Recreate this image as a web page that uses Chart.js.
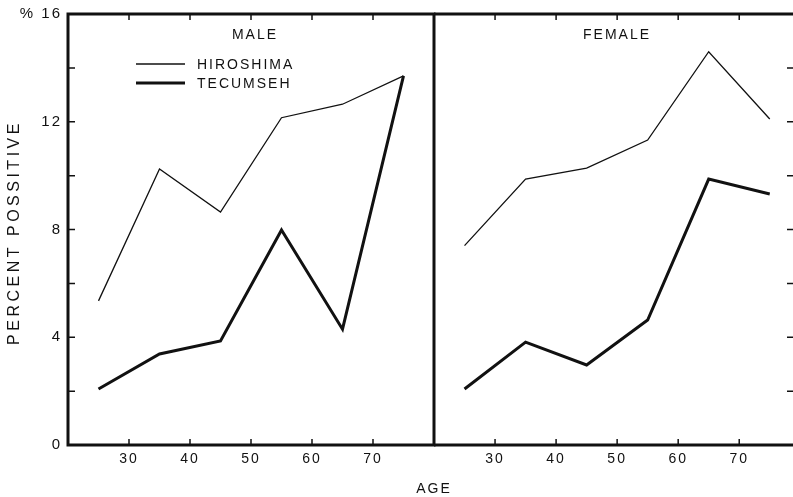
<!DOCTYPE html>
<html>
<head>
<meta charset="utf-8">
<script src="https://cdn.jsdelivr.net/npm/chart.js@4.4.0/dist/chart.umd.min.js"></script>
<style>
  body { margin: 0; background: #fff; overflow: hidden; width: 793px; height: 497px; position: relative; }
  canvas { position: absolute; top: 0; }
  #male { left: 0; }
  #female { left: 432px; }
  #ageLabel { position: absolute; left: 384px; width: 100px; top: 480px; text-align: center;
    font: 14px "Liberation Sans", Arial, sans-serif; letter-spacing: 2px; color: #111; }
</style>
</head>
<body>
<canvas id="male" width="436" height="497"></canvas>
<canvas id="female" width="365" height="497"></canvas>
<div id="ageLabel">AGE</div>
<script>
document.addEventListener('DOMContentLoaded', function () {

    // data
    let ages = [25, 35, 45, 55, 65, 75];
    let maleHiroshima = [5.35, 10.25, 8.65, 12.15, 12.65, 13.7];
    let maleTecumseh = [2.08, 3.38, 3.86, 7.98, 4.3, 13.7];
    let femaleHiroshima = [7.4, 9.87, 10.28, 11.32, 14.6, 12.1];
    let femaleTecumseh = [2.08, 3.82, 2.97, 4.64, 9.87, 9.32];

    let seriesNames = ['HIROSHIMA', 'TECUMSEH'];
    let xTickValues = [30, 40, 50, 60, 70];
    let yTickValues = [2, 4, 6, 8, 10, 12, 14];
    let yTitle = 'PERCENT POSSITIVE';

    let fontFamily = '"Liberation Sans", Arial, sans-serif';
    let ink = '#111';

    function points(values) {
        return values.map((v, i) => ({ x: ages[i], y: v }));
    }

    // box, inward ticks, panel title, y title and legend
    var framePlugin = {
        id: 'frame',
        beforeDraw: function (chart) {
            chart.ctx.letterSpacing = '2px';
        },
        afterDraw: function (chart, args, opts) {
            var ctx = chart.ctx;
            var a = chart.chartArea;
            var xs = chart.scales.x;
            var ys = chart.scales.y;
            ctx.save();
            ctx.strokeStyle = ink;
            ctx.fillStyle = ink;

            // frame
            ctx.lineWidth = 3;
            ctx.beginPath();
            ctx.moveTo(a.left, a.top);
            ctx.lineTo(a.right, a.top);
            ctx.moveTo(a.left, a.bottom);
            ctx.lineTo(a.right, a.bottom);
            if (opts.leftLine) { ctx.moveTo(a.left, a.top - 1.5); ctx.lineTo(a.left, a.bottom + 1.5); }
            if (opts.rightLine) { ctx.moveTo(a.right, a.top - 1.5); ctx.lineTo(a.right, a.bottom + 1.5); }
            ctx.stroke();

            // ticks pointing inward
            ctx.lineWidth = 1.5;
            ctx.beginPath();
            xTickValues.forEach(function (v) {
                var px = xs.getPixelForValue(v);
                ctx.moveTo(px, a.bottom);
                ctx.lineTo(px, a.bottom - 6);
                ctx.moveTo(px, a.top);
                ctx.lineTo(px, a.top + 6);
            });
            yTickValues.forEach(function (v) {
                var py = ys.getPixelForValue(v);
                if (opts.leftTicks) { ctx.moveTo(a.left, py); ctx.lineTo(a.left + 7, py); }
                if (opts.rightTicks) { ctx.moveTo(a.right, py); ctx.lineTo(a.right - 9, py); }
            });
            ctx.stroke();

            // panel title
            ctx.font = '14px ' + fontFamily;
            ctx.textBaseline = 'middle';
            ctx.textAlign = 'center';
            ctx.fillText(opts.title, (a.left + a.right) / 2 + opts.titleShift, a.top + 21);

            // y title, rotated
            if (opts.yTitle) {
                ctx.save();
                ctx.letterSpacing = '3.5px';
                ctx.font = '16px ' + fontFamily;
                ctx.translate(15, (a.top + a.bottom) / 2 + 3);
                ctx.rotate(-Math.PI / 2);
                ctx.fillText(opts.yTitle, 0, 0);
                ctx.restore();
            }

            // legend
            if (opts.legend) {
                ctx.textAlign = 'left';
                chart.data.datasets.forEach(function (ds, i) {
                    var y = a.top + 50 + i * 19;
                    ctx.lineWidth = ds.borderWidth;
                    ctx.beginPath();
                    ctx.moveTo(a.left + 68, y);
                    ctx.lineTo(a.left + 117, y);
                    ctx.stroke();
                    ctx.fillText(ds.label, a.left + 129, y + 1);
                });
            }
            ctx.restore();
        }
    };

    function makeChart(id, hiro, tecu, isLeft) {
        var ctx = document.getElementById(id).getContext('2d');
        return new Chart(ctx, {
            type: 'line',
            data: {
                datasets: [{
                    label: seriesNames[0],
                    data: points(hiro),
                    borderColor: ink,
                    borderWidth: 1.3,
                    pointRadius: 0,
                    tension: 0,
                    fill: false
                }, {
                    label: seriesNames[1],
                    data: points(tecu),
                    borderColor: ink,
                    borderWidth: 3,
                    pointRadius: 0,
                    tension: 0,
                    fill: false
                }]
            },
            options: {
                responsive: false,
                animation: false,
                layout: {
                    padding: isLeft ? { top: 14, right: 2, left: 0, bottom: 0 } : { top: 14, right: 1, left: 2, bottom: 0 }
                },
                plugins: {
                    legend: { display: false },
                    tooltip: { enabled: false },
                    frame: {
                        title: isLeft ? 'MALE' : 'FEMALE',
                        titleShift: isLeft ? 4 : 2,
                        yTitle: isLeft ? yTitle : null,
                        legend: isLeft,
                        leftLine: isLeft,
                        rightLine: isLeft,
                        leftTicks: isLeft,
                        rightTicks: !isLeft
                    }
                },
                scales: {
                    x: {
                        type: 'linear',
                        min: 20,
                        max: isLeft ? 80 : 79.3,
                        grid: { display: false },
                        border: { display: false },
                        afterFit: function (scale) {
                            scale.height = 52;
                            scale.paddingLeft = 0;
                            scale.paddingRight = 0;
                        },
                        ticks: {
                            stepSize: 10,
                            includeBounds: false,
                            autoSkip: false,
                            maxRotation: 0,
                            padding: -2,
                            color: ink,
                            font: { family: fontFamily, size: 14 },
                            callback: function (v) {
                                return xTickValues.indexOf(v) >= 0 ? String(v) : '';
                            }
                        }
                    },
                    y: {
                        display: isLeft,
                        min: 0,
                        max: 16,
                        grid: { display: false },
                        border: { display: false },
                        afterFit: function (scale) {
                            scale.width = isLeft ? 68 : 0;
                            scale.paddingTop = 0;
                            scale.paddingBottom = 0;
                        },
                        ticks: {
                            stepSize: 2,
                            padding: -2,
                            color: ink,
                            font: { family: fontFamily, size: 15 },
                            callback: function (v) {
                                if (v % 4 !== 0) return '';
                                return v === 16 ? '% 16' : String(v);
                            }
                        }
                    }
                }
            },
            plugins: [framePlugin]
        });
    }

    var maleChart = makeChart('male', maleHiroshima, maleTecumseh, true);
    var femaleChart = makeChart('female', femaleHiroshima, femaleTecumseh, false);
});
</script>
</body>
</html>
